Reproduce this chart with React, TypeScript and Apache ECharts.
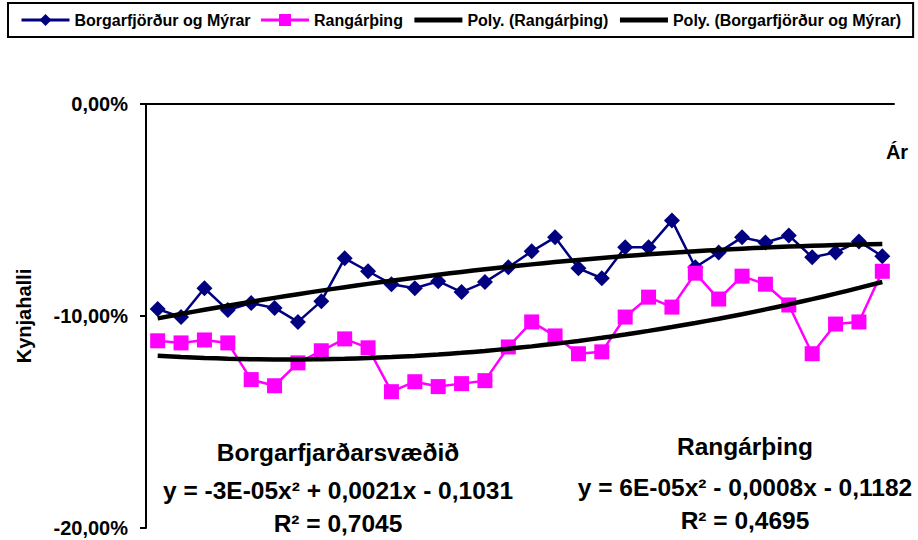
import React, { useEffect, useRef } from "react";
import * as echarts from "echarts";

const categories = ["1","2","3","4","5","6","7","8","9","10","11","12","13","14","15","16","17","18","19","20","21","22","23","24","25","26","27","28","29","30","31","32"];
const borgarfjordur = [-9.67,-10.05,-8.69,-9.72,-9.39,-9.62,-10.28,-9.30,-7.28,-7.89,-8.50,-8.69,-8.36,-8.87,-8.40,-7.70,-6.95,-6.29,-7.75,-8.22,-6.76,-6.76,-5.49,-7.70,-7.00,-6.29,-6.53,-6.20,-7.23,-7.00,-6.48,-7.18];
const rangarthing = [-11.17,-11.27,-11.13,-11.27,-13.00,-13.29,-12.21,-11.64,-11.08,-11.50,-13.57,-13.10,-13.33,-13.19,-13.05,-11.46,-10.28,-10.94,-11.78,-11.69,-10.05,-9.11,-9.58,-7.98,-9.20,-8.12,-8.50,-9.48,-11.78,-10.38,-10.28,-7.89];
const seriesNames = ["Borgarfjörður og Mýrar", "Rangárþing", "Poly. (Rangárþing)", "Poly. (Borgarfjörður og Mýrar)"];
const yTicks = [0, -10, -20];
const leftBlock = ["Borgarfjarðarsvæðið", "y = -3E-05x² + 0,0021x - 0,1031", "R² = 0,7045"];
const rightBlock = ["Rangárþing", "y = 6E-05x² - 0,0008x - 0,1182", "R² = 0,4695"];

// least-squares quadratic fit (as the spreadsheet trendline does)
function quadFit(ys: number[]): number[] {
  const n = ys.length;
  let s0 = 0, s1 = 0, s2 = 0, s3 = 0, s4 = 0, t0 = 0, t1 = 0, t2 = 0;
  for (let i = 0; i < n; i++) {
    const x = i + 1, y = ys[i];
    s0 += 1; s1 += x; s2 += x * x; s3 += x * x * x; s4 += x * x * x * x;
    t0 += y; t1 += x * y; t2 += x * x * y;
  }
  const M = [[s4, s3, s2, t2], [s3, s2, s1, t1], [s2, s1, s0, t0]];
  for (let c = 0; c < 3; c++) {
    for (let r = c + 1; r < 3; r++) {
      const f = M[r][c] / M[c][c];
      for (let k = c; k < 4; k++) M[r][k] -= f * M[c][k];
    }
  }
  const sol = [0, 0, 0];
  for (let r = 2; r >= 0; r--) {
    let s = M[r][3];
    for (let k = r + 1; k < 3; k++) s -= M[r][k] * sol[k];
    sol[r] = s / M[r][r];
  }
  return ys.map((_, i) => { const x = i + 1; return sol[0] * x * x + sol[1] * x + sol[2]; });
}

const FONT = "'Liberation Sans', Arial, sans-serif";

export default function App() {
  const ref = useRef<HTMLDivElement>(null);
  useEffect(() => {
    if (!ref.current) return;
    const chart = echarts.init(ref.current, null, { renderer: "svg" });
    const textEl = (t: string, x: number, y: number) => ({
      type: "text",
      x, y,
      style: {
        text: t, fill: "#000", fontSize: 24.5, fontWeight: "bold", fontFamily: FONT,
        align: "center", verticalAlign: "middle", textAlign: "center", textVerticalAlign: "middle",
      },
    });
    const leftYs = [452, 490, 523];
    const rightYs = [446, 487, 520];
    chart.setOption({
      animation: false,
      backgroundColor: "#fff",
      textStyle: { fontFamily: FONT },
      legend: {
        left: 8, top: 3, right: 2,
        padding: [9, 12],
        borderColor: "#000", borderWidth: 2,
        itemWidth: 48, itemHeight: 15, itemGap: 9,
        textStyle: { fontSize: 16, fontWeight: "bold", color: "#000", fontFamily: FONT },
        data: [
          { name: seriesNames[0], lineStyle: { width: 3 } },
          { name: seriesNames[1], lineStyle: { width: 3 } },
          { name: seriesNames[2], itemStyle: { opacity: 0 }, lineStyle: { width: 5 } },
          { name: seriesNames[3], itemStyle: { opacity: 0 }, lineStyle: { width: 5 } },
        ],
      },
      grid: { left: 146, top: 104, right: 24, bottom: 12 },
      xAxis: {
        type: "category",
        data: categories,
        position: "top",
        boundaryGap: true,
        axisLine: { lineStyle: { color: "#000", width: 2 } },
        axisTick: { inside: true, length: 6, lineStyle: { color: "#000", width: 2 } },
        axisLabel: { show: false },
        splitLine: { show: false },
      },
      yAxis: {
        type: "value",
        min: -20, max: 0, interval: 10,
        name: "Kynjahalli",
        nameLocation: "middle",
        nameGap: 112,
        nameTextStyle: { fontSize: 20, fontWeight: "bold", color: "#000", fontFamily: FONT },
        axisLine: { show: true, lineStyle: { color: "#000", width: 2 } },
        axisTick: { show: true, length: 6, lineStyle: { color: "#000", width: 2 } },
        axisLabel: {
          margin: 18, fontSize: 20, fontWeight: "bold", color: "#000", fontFamily: FONT,
          formatter: (v: number) => (yTicks.includes(v) ? v.toFixed(2).replace(".", ",") + "%" : ""),
        },
        splitLine: { show: false },
      },
      series: [
        {
          name: seriesNames[0], type: "line", data: borgarfjordur,
          symbol: "diamond", symbolSize: 16, showAllSymbol: true,
          lineStyle: { color: "#000080", width: 2.5 },
          itemStyle: { color: "#000080" },
          z: 2,
        },
        {
          name: seriesNames[1], type: "line", data: rangarthing,
          symbol: "rect", symbolSize: 15, showAllSymbol: true,
          lineStyle: { color: "#FF00FF", width: 2.5 },
          itemStyle: { color: "#FF00FF" },
          z: 2,
        },
        {
          name: seriesNames[2], type: "line", data: quadFit(rangarthing),
          symbol: "none", smooth: true,
          lineStyle: { color: "#000", width: 4.5 },
          itemStyle: { color: "#000" },
          z: 3,
        },
        {
          name: seriesNames[3], type: "line", data: quadFit(borgarfjordur),
          symbol: "none", smooth: true,
          lineStyle: { color: "#000", width: 4.5 },
          itemStyle: { color: "#000" },
          z: 3,
        },
      ],
      graphic: [
        ...leftBlock.map((t, i) => textEl(t, 338, leftYs[i])),
        ...rightBlock.map((t, i) => textEl(t, 745, rightYs[i])),
        {
          type: "text", x: 897, y: 152,
          style: {
            text: "Ár", fill: "#000", fontSize: 20, fontWeight: "bold", fontFamily: FONT,
            align: "center", verticalAlign: "middle", textAlign: "center", textVerticalAlign: "middle",
          },
        },
      ],
    });
    return () => chart.dispose();
  }, []);
  return <div ref={ref} style={{ width: 918, height: 540, position: "absolute", left: 0, top: 0 }} />;
}
